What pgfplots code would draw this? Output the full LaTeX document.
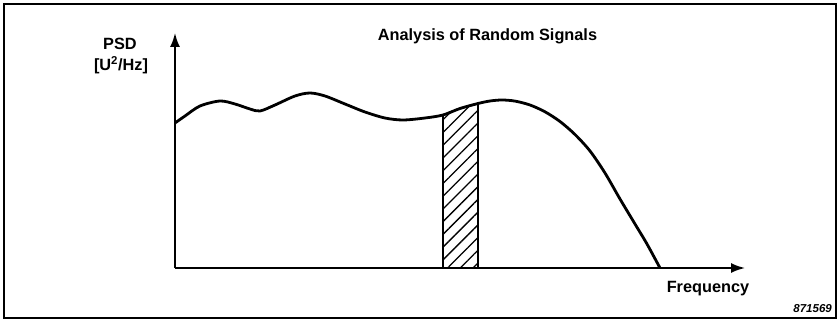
\documentclass[border=0pt]{standalone}
\usepackage{fontspec}
\setmainfont{Liberation Sans}
\usepackage{pgfplots}
\pgfplotsset{compat=1.18}
\usetikzlibrary{arrows.meta,patterns.meta}
\begin{document}
\begin{tikzpicture}
\begin{axis}[
  scale only axis, width=570pt, height=235pt,
  xmin=0, xmax=570, ymin=0, ymax=235,
  axis lines=left,
  axis line style={line width=1.8pt,-{Latex[length=14pt,width=10pt]}},
  xtick=\empty, ytick=\empty,
  clip=false,
]
% invisible bounding box (838 x 321)
\path (axis cs:-175,-53) rectangle (axis cs:663,268);
% frame
\draw[line width=1.4pt] (axis cs:-171,-50) rectangle (axis cs:661,264);
% hatched band
\addplot[draw=black, line width=1.8pt, pattern={Lines[angle=45,distance=9pt,line width=1.3pt]}]
  coordinates {(268,0) (268,153) (285,159.5) (303,164.5) (303,0)} -- cycle;
% PSD curve
\addplot[smooth, line width=2.8pt] coordinates {
(0,145) (10,152) (25,162) (45,167) (60,164) (75,159) (85,157) (100,163)
(120,172) (135,175) (150,172) (170,164) (190,156) (210,150) (228,148)
(250,150) (268,153) (285,159.5) (303,164.5) (315,167) (327,168) (340,166.9)
(355,163) (370,156.2) (385,146.5) (400,133.5) (415,117) (430,95)
(445,69) (460,44) (472,24) (485,0)};
% texts
\node[anchor=base, font=\bfseries\fontsize{16.3}{19}\selectfont] at (axis cs:312.5,227) {Analysis of Random Signals};
\node[anchor=base, font=\bfseries\fontsize{16.3}{19}\selectfont] at (axis cs:-55,218) {PSD};
\node[anchor=base, font=\bfseries\fontsize{16.3}{19}\selectfont] at (axis cs:-54,197) {[U\textsuperscript{2}/Hz]};
\node[anchor=base, font=\bfseries\fontsize{16.3}{19}\selectfont] at (axis cs:533,-24) {Frequency};
\node[anchor=base east, inner sep=0pt, font=\bfseries\itshape\fontsize{11.5}{13}\selectfont] at (axis cs:657,-44) {871569};
\end{axis}
\end{tikzpicture}
\end{document}
